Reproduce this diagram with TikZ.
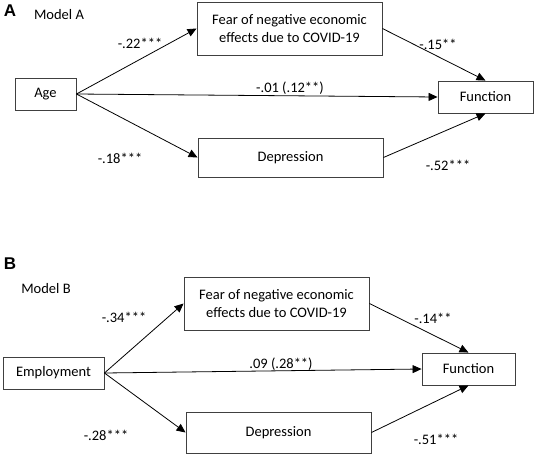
\documentclass[tikz,border=0pt]{standalone}
\usepackage{fontspec}
\setmainfont{Carlito}
\newfontfamily\panelfont{Liberation Sans}
\usetikzlibrary{arrows.meta}
\begin{document}
\begin{tikzpicture}[x=1pt,y=-1pt,
  box/.style={draw=black!75,line width=0.9pt,inner sep=0pt,align=center,font=\fontsize{14.5}{18}\selectfont},
  lbl/.style={inner sep=0pt,font=\fontsize{14.5}{17}\selectfont},
  panel/.style={inner sep=0pt,font=\panelfont\bfseries\fontsize{17}{20}\selectfont},
  arr/.style={draw=black,line width=0.8pt,-{Triangle[length=9pt,width=8pt]}}]
\useasboundingbox (0,0) rectangle (536,456);
% Panel A
\node[panel] (pA) at (10,11) {A};
\node[lbl] (mA) at (59,15) {Model A};
\node[box,minimum width=185,minimum height=53] (fearA) at (289.5,28.5) {Fear of negative economic\\effects due to COVID-19};
\node[box,minimum width=61,minimum height=32] (ageA) at (45.5,94) {Age};
\node[box,minimum width=95,minimum height=32] (funcA) at (485.5,97) {Function};
\node[box,minimum width=185,minimum height=39] (depA) at (290.5,157.5) {Depression};
\draw[arr] (ageA.east) -- (fearA.west);
\draw[arr] (ageA.east) -- (depA.west);
\draw[arr] (ageA.east) -- (funcA.west);
\draw[arr] (fearA.east) -- (funcA.north);
\draw[arr] (depA.east) -- (funcA.south);
\node[lbl] (lA1) at (140,43) {-.22***};
\node[lbl] (lA2) at (120,158) {-.18***};
\node[lbl] (lA3) at (290,88) {-.01 (.12**)};
\node[lbl] (lA4) at (438,44) {-.15**};
\node[lbl] (lA5) at (448,165) {-.52***};
% Panel B
\node[panel] (pB) at (10,264) {B};
\node[lbl] (mB) at (46,289) {Model B};
\node[box,minimum width=185,minimum height=53] (fearB) at (276.5,303.5) {Fear of negative economic\\effects due to COVID-19};
\node[box,minimum width=101,minimum height=32] (empB) at (53.5,373) {Employment};
\node[box,minimum width=93,minimum height=32] (funcB) at (468.5,369) {Function};
\node[box,minimum width=185,minimum height=41] (depB) at (278.5,432.5) {Depression};
\draw[arr] (empB.east) -- (fearB.west);
\draw[arr] (empB.east) -- (depB.west);
\draw[arr] (empB.east) -- (funcB.west);
\draw[arr] (fearB.east) -- (funcB.north);
\draw[arr] (depB.east) -- (funcB.south);
\node[lbl] (lB1) at (124,317) {-.34***};
\node[lbl] (lB2) at (106,435) {-.28***};
\node[lbl] (lB3) at (281,364) {.09 (.28**)};
\node[lbl] (lB4) at (433,318) {-.14**};
\node[lbl] (lB5) at (436,439) {-.51***};
\end{tikzpicture}
\end{document}
